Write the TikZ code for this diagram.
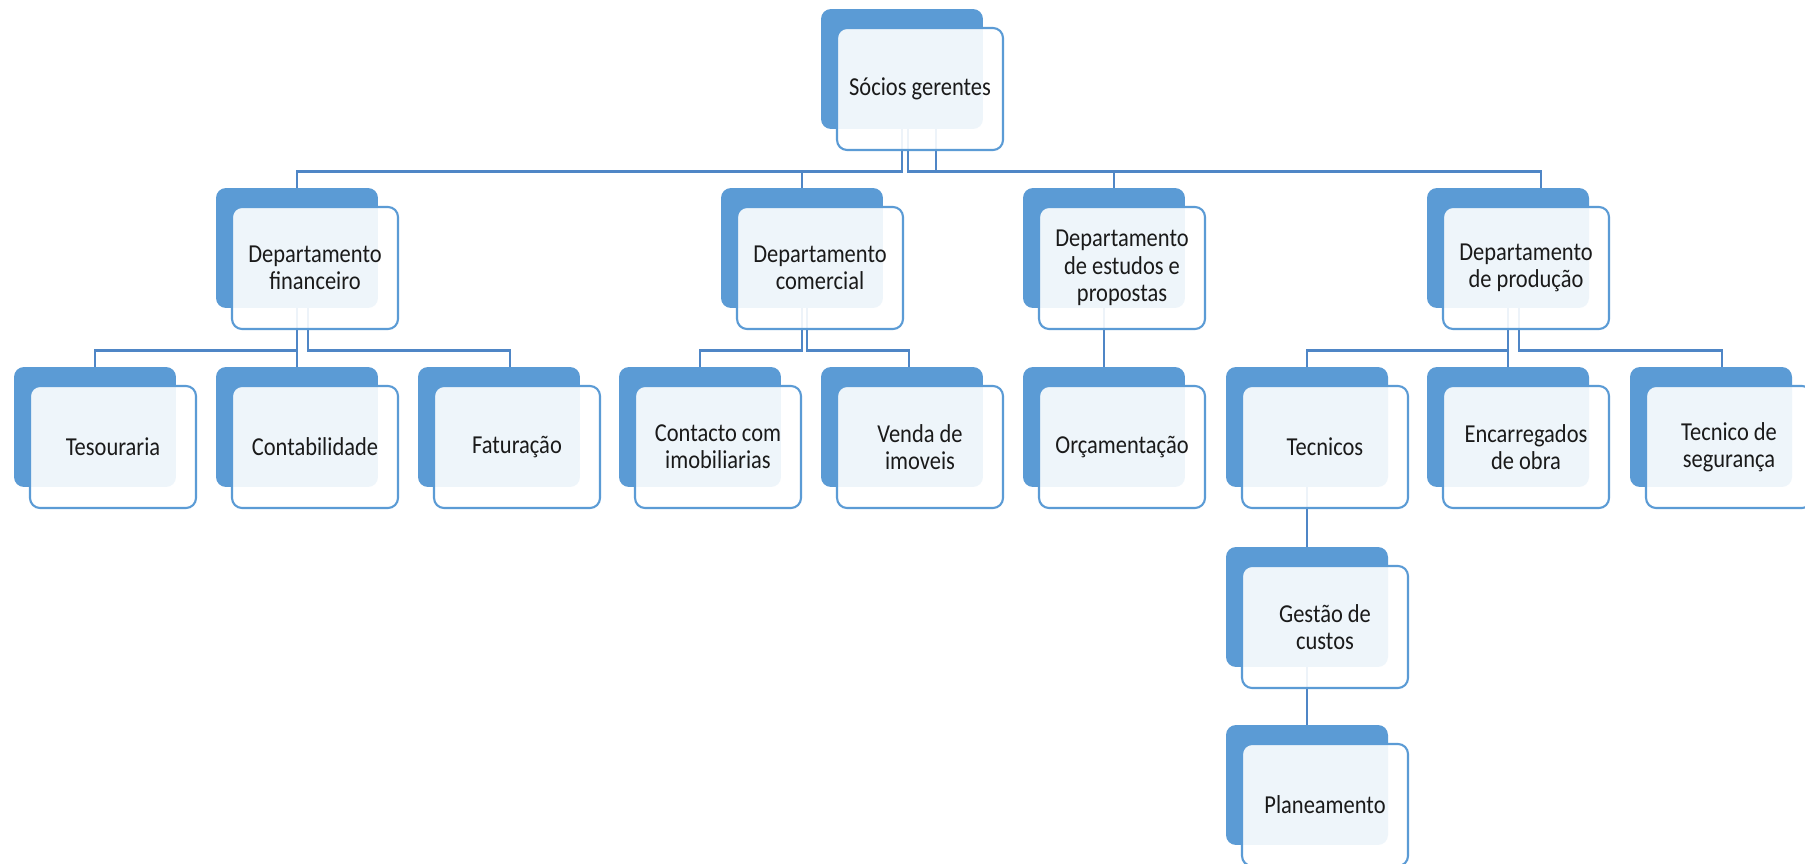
\documentclass[tikz,border=0pt]{standalone}
\usepackage{fontspec}
\setmainfont{Carlito}[FakeStretch=0.87]
\usepackage{xcolor}
\definecolor{OrgBlue}{HTML}{5B9BD5}
\definecolor{OrgLine}{HTML}{4F86C6}
\definecolor{OrgText}{HTML}{1A1A1A}
\tikzset{
    % Box styles - shadow card and front card
    backbox/.style={
        rectangle,
        rounded corners=0.2cm,
        fill=OrgBlue,
        draw=none,
        minimum width=3.24cm,
        minimum height=2.4cm,
        inner sep=0pt
    },
    frontbox/.style={
        rectangle,
        rounded corners=0.2cm,
        draw=OrgBlue,
        line width=1.2pt,
        fill=white,
        fill opacity=0.9,
        text opacity=1,
        minimum width=3.32cm,
        minimum height=2.44cm,
        align=center,
        inner sep=2pt,
        text=OrgText,
        font=\fontsize{14.7}{15.6}\selectfont
    },
    % Connector style
    orgline/.style={
        draw=OrgLine,
        line width=1.6pt
    }
}
\begin{document}
\begin{tikzpicture}[x=0.02cm, y=-0.02cm]
    \useasboundingbox[fill=white] (0,0) rectangle (1805,864);

    % back cards
    \node[backbox] (socb)  at (902,69)   {};
    \node[backbox] (finb)  at (297,248)  {};
    \node[backbox] (comb)  at (802,248)  {};
    \node[backbox] (estb)  at (1104,248) {};
    \node[backbox] (prodb) at (1508,248) {};
    \node[backbox] (tesb)  at (95,427)   {};
    \node[backbox] (contb) at (297,427)  {};
    \node[backbox] (fatb)  at (499,427)  {};
    \node[backbox] (cimb)  at (700,427)  {};
    \node[backbox] (venb)  at (902,427)  {};
    \node[backbox] (orcb)  at (1104,427) {};
    \node[backbox] (tecb)  at (1307,427) {};
    \node[backbox] (encb)  at (1508,427) {};
    \node[backbox] (segb)  at (1711,427) {};
    \node[backbox] (gesb)  at (1307,607) {};
    \node[backbox] (plab)  at (1307,785) {};

    % connectors
    \draw[orgline] (socb.south) -- ++(0,42) -| (finb.north);
    \draw[orgline] (socb.south) -- ++(0,42) -| (comb.north);
    \draw[orgline] ([shift={(6,0)}]socb.south) -- ++(0,42) -| ([shift={(10,0)}]estb.north);
    \draw[orgline] ([shift={(34,0)}]socb.south) -- ++(0,42) -| ([shift={(33,0)}]prodb.north);

    \draw[orgline] (finb.south) -- ++(0,42) -| (tesb.north);
    \draw[orgline] (finb.south) -- (contb.north);
    \draw[orgline] ([shift={(11,0)}]finb.south) -- ++(0,42) -| ([shift={(11,0)}]fatb.north);

    \draw[orgline] (comb.south) -- ++(0,42) -| (cimb.north);
    \draw[orgline] ([shift={(5,0)}]comb.south) -- ++(0,42) -| ([shift={(7,0)}]venb.north);

    \draw[orgline] (estb.south) -- (orcb.north);

    \draw[orgline] (prodb.south) -- ++(0,42) -| (tecb.north);
    \draw[orgline] (prodb.south) -- (encb.north);
    \draw[orgline] ([shift={(11,0)}]prodb.south) -- ++(0,42) -| ([shift={(11,0)}]segb.north);

    \draw[orgline] (tecb.south) -- (gesb.north);
    \draw[orgline] (gesb.south) -- (plab.north);

    % front cards
    \node[frontbox] (soc)  at ([shift={(18,20)}]socb)  {Sócios gerentes};
    \node[frontbox] (fin)  at ([shift={(18,20)}]finb)  {Departamento\\financeiro};
    \node[frontbox] (com)  at ([shift={(18,20)}]comb)  {Departamento\\comercial};
    \node[frontbox] (est)  at ([shift={(18,20)}]estb)  {Departamento\\de estudos e\\propostas};
    \node[frontbox] (prod) at ([shift={(18,20)}]prodb) {Departamento\\de produção};
    \node[frontbox] (tes)  at ([shift={(18,20)}]tesb)  {Tesouraria};
    \node[frontbox] (cont) at ([shift={(18,20)}]contb) {Contabilidade};
    \node[frontbox] (fat)  at ([shift={(18,20)}]fatb)  {Faturação};
    \node[frontbox] (cim)  at ([shift={(18,20)}]cimb)  {Contacto com\\imobiliarias};
    \node[frontbox] (ven)  at ([shift={(18,20)}]venb)  {Venda de\\imoveis};
    \node[frontbox] (orc)  at ([shift={(18,20)}]orcb)  {Orçamentação};
    \node[frontbox] (tec)  at ([shift={(18,20)}]tecb)  {Tecnicos};
    \node[frontbox] (enc)  at ([shift={(18,20)}]encb)  {Encarregados\\de obra};
    \node[frontbox] (seg)  at ([shift={(18,20)}]segb)  {Tecnico de\\segurança};
    \node[frontbox] (ges)  at ([shift={(18,20)}]gesb)  {Gestão de\\custos};
    \node[frontbox] (pla)  at ([shift={(18,20)}]plab)  {Planeamento};
\end{tikzpicture}
\end{document}
